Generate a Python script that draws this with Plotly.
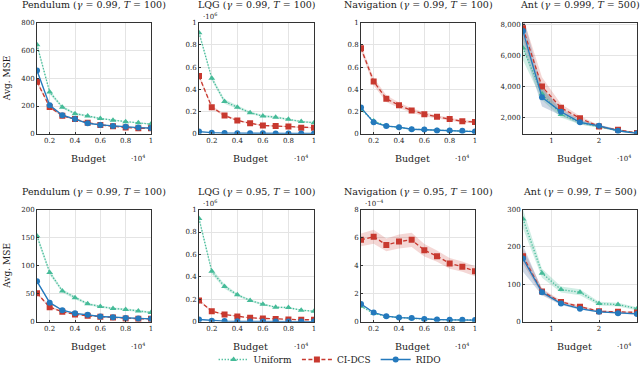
import plotly.graph_objects as go
from plotly.subplots import make_subplots

# budgets in units of 10^4
BUDGET = [0.1, 0.2, 0.3, 0.4, 0.5, 0.6, 0.7, 0.8, 0.9, 1.0]
BUDGET_ANT = [0.4, 0.8, 1.2, 1.6, 2.0, 2.4, 2.8]

TITLES = [
    "Pendulum (<i>γ</i> = 0.99, <i>T</i> = 100)",
    "LQG (<i>γ</i> = 0.99, <i>T</i> = 100)",
    "Navigation (<i>γ</i> = 0.99, <i>T</i> = 100)",
    "Ant (<i>γ</i> = 0.999, <i>T</i> = 500)",
    "Pendulum (<i>γ</i> = 0.99, <i>T</i> = 100)",
    "LQG (<i>γ</i> = 0.95, <i>T</i> = 100)",
    "Navigation (<i>γ</i> = 0.95, <i>T</i> = 100)",
    "Ant (<i>γ</i> = 0.99, <i>T</i> = 500)",
]

# row 1
PEND1_UNIFORM = [640, 300, 192, 145, 128, 110, 98, 86, 79, 70]
PEND1_UNIFORM_ERR = [18, 15, 10, 8, 7, 6, 6, 5, 5, 5]
PEND1_CIDCS = [375, 193, 130, 106, 80, 64, 54, 45, 40, 40]
PEND1_CIDCS_ERR = [15, 10, 8, 6, 5, 4, 4, 3, 3, 3]
PEND1_RIDO = [455, 205, 134, 106, 76, 64, 57, 50, 45, 42]
PEND1_RIDO_ERR = [10, 8, 6, 5, 4, 3, 3, 3, 3, 3]

LQG1_UNIFORM = [0.91, 0.50, 0.29, 0.24, 0.19, 0.16, 0.15, 0.13, 0.11, 0.10]
LQG1_UNIFORM_ERR = [0.02, 0.02, 0.02, 0.015, 0.01, 0.01, 0.01, 0.008, 0.008, 0.008]
LQG1_CIDCS = [0.52, 0.24, 0.165, 0.12, 0.095, 0.075, 0.07, 0.065, 0.055, 0.055]
LQG1_CIDCS_ERR = [0.02, 0.015, 0.01, 0.008, 0.006, 0.005, 0.005, 0.005, 0.004, 0.004]
LQG1_RIDO = [0.02, 0.01, 0.007, 0.005, 0.004, 0.004, 0.003, 0.003, 0.003, 0.003]
LQG1_RIDO_ERR = [0.003, 0.002, 0.001, 0.001, 0.001, 0.001, 0.001, 0.001, 0.001, 0.001]

NAV1_UNIFORM = [0.22, 0.115, 0.072, 0.058, 0.042, 0.038, 0.031, 0.029, 0.026, 0.021]
NAV1_UNIFORM_ERR = [0.006, 0.004, 0.003, 0.003, 0.002, 0.002, 0.002, 0.002, 0.002, 0.002]
NAV1_CIDCS = [0.77, 0.47, 0.316, 0.257, 0.21, 0.177, 0.153, 0.133, 0.112, 0.106]
NAV1_CIDCS_ERR = [0.03, 0.035, 0.03, 0.025, 0.02, 0.018, 0.015, 0.014, 0.012, 0.012]
NAV1_RIDO = [0.236, 0.103, 0.07, 0.06, 0.041, 0.038, 0.03, 0.03, 0.027, 0.02]
NAV1_RIDO_ERR = [0.006, 0.004, 0.003, 0.003, 0.002, 0.002, 0.002, 0.002, 0.002, 0.002]

ANT1_UNIFORM = [6500, 3530, 2190, 1660, 1380, 1150, 980]
ANT1_UNIFORM_ERR = [800, 400, 200, 120, 80, 60, 40]
ANT1_CIDCS = [7780, 4000, 2620, 1940, 1400, 1190, 980]
ANT1_CIDCS_ERR = [700, 600, 250, 150, 80, 60, 40]
ANT1_RIDO = [7600, 3300, 2360, 1680, 1450, 1130, 960]
ANT1_RIDO_ERR = [1000, 600, 250, 150, 80, 60, 40]

# row 2
PEND2_UNIFORM = [153, 88, 55, 43, 32, 27, 23.5, 22, 19, 16.5]
PEND2_UNIFORM_ERR = [5, 4, 3, 3, 2, 2, 2, 2, 2, 2]
PEND2_CIDCS = [51, 26, 18, 13, 10.6, 9, 7.6, 6, 5.3, 5.3]
PEND2_CIDCS_ERR = [2, 2, 1, 1, 1, 1, 1, 1, 1, 1]
PEND2_RIDO = [72, 34, 20.6, 15, 12.4, 9.4, 8.2, 6.5, 6, 5.3]
PEND2_RIDO_ERR = [2, 2, 1, 1, 1, 1, 1, 1, 1, 1]

LQG2_UNIFORM = [0.92, 0.45, 0.315, 0.24, 0.19, 0.156, 0.13, 0.126, 0.103, 0.094]
LQG2_UNIFORM_ERR = [0.02, 0.025, 0.02, 0.012, 0.01, 0.008, 0.007, 0.007, 0.006, 0.006]
LQG2_CIDCS = [0.19, 0.094, 0.065, 0.047, 0.035, 0.03, 0.024, 0.02, 0.018, 0.018]
LQG2_CIDCS_ERR = [0.01, 0.006, 0.004, 0.003, 0.002, 0.002, 0.002, 0.002, 0.002, 0.002]
LQG2_RIDO = [0.02, 0.01, 0.006, 0.004, 0.003, 0.003, 0.002, 0.002, 0.002, 0.002]
LQG2_RIDO_ERR = [0.002, 0.001, 0.001, 0.001, 0.001, 0.001, 0.001, 0.001, 0.001, 0.001]

NAV2_UNIFORM = [1.1, 0.6, 0.38, 0.3, 0.25, 0.19, 0.16, 0.14, 0.13, 0.12]
NAV2_UNIFORM_ERR = [0.05, 0.03, 0.02, 0.02, 0.02, 0.02, 0.02, 0.02, 0.02, 0.02]
NAV2_CIDCS = [5.84, 6.07, 5.48, 5.72, 5.84, 5.1, 4.68, 4.16, 3.93, 3.6]
NAV2_CIDCS_ERR = [0.45, 0.5, 0.45, 0.5, 0.5, 0.45, 0.4, 0.38, 0.36, 0.35]
NAV2_RIDO = [1.27, 0.66, 0.4, 0.3, 0.26, 0.19, 0.16, 0.14, 0.14, 0.12]
NAV2_RIDO_ERR = [0.06, 0.03, 0.02, 0.02, 0.02, 0.02, 0.02, 0.02, 0.02, 0.02]

ANT2_UNIFORM = [275, 130, 86, 79, 48.5, 46, 35]
ANT2_UNIFORM_ERR = [25, 12, 8, 8, 5, 5, 4]
ANT2_CIDCS = [175, 81, 53, 40, 28, 26.5, 25]
ANT2_CIDCS_ERR = [20, 8, 4, 3, 2, 2, 2]
ANT2_RIDO = [169, 79, 48.5, 35, 26.5, 23, 21]
ANT2_RIDO_ERR = [35, 8, 4, 3, 2, 2, 2]

PANELS = [
    (BUDGET, PEND1_UNIFORM, PEND1_UNIFORM_ERR, PEND1_CIDCS, PEND1_CIDCS_ERR, PEND1_RIDO, PEND1_RIDO_ERR),
    (BUDGET, LQG1_UNIFORM, LQG1_UNIFORM_ERR, LQG1_CIDCS, LQG1_CIDCS_ERR, LQG1_RIDO, LQG1_RIDO_ERR),
    (BUDGET, NAV1_UNIFORM, NAV1_UNIFORM_ERR, NAV1_CIDCS, NAV1_CIDCS_ERR, NAV1_RIDO, NAV1_RIDO_ERR),
    (BUDGET_ANT, ANT1_UNIFORM, ANT1_UNIFORM_ERR, ANT1_CIDCS, ANT1_CIDCS_ERR, ANT1_RIDO, ANT1_RIDO_ERR),
    (BUDGET, PEND2_UNIFORM, PEND2_UNIFORM_ERR, PEND2_CIDCS, PEND2_CIDCS_ERR, PEND2_RIDO, PEND2_RIDO_ERR),
    (BUDGET, LQG2_UNIFORM, LQG2_UNIFORM_ERR, LQG2_CIDCS, LQG2_CIDCS_ERR, LQG2_RIDO, LQG2_RIDO_ERR),
    (BUDGET, NAV2_UNIFORM, NAV2_UNIFORM_ERR, NAV2_CIDCS, NAV2_CIDCS_ERR, NAV2_RIDO, NAV2_RIDO_ERR),
    (BUDGET_ANT, ANT2_UNIFORM, ANT2_UNIFORM_ERR, ANT2_CIDCS, ANT2_CIDCS_ERR, ANT2_RIDO, ANT2_RIDO_ERR),
]

Y_RANGES = [[0, 800], [0, 1], [0, 1], [930, 8150], [0, 200], [0, 1], [0, 8], [0, 300]]
Y_TICKS = [
    [0, 200, 400, 600, 800],
    [0, 0.2, 0.4, 0.6, 0.8, 1],
    [0, 0.2, 0.4, 0.6, 0.8, 1],
    [2000, 4000, 6000, 8000],
    [0, 50, 100, 150, 200],
    [0, 0.2, 0.4, 0.6, 0.8, 1],
    [0, 2, 4, 6, 8],
    [0, 100, 200, 300],
]
Y_EXPONENT = [None, "·10<sup>6</sup>", None, None, None, "·10<sup>6</sup>", "·10<sup>−4</sup>", None]
X_TICKS = [0.2, 0.4, 0.6, 0.8, 1]
X_TICKS_ANT = [1, 2]

NAMES = ["Uniform", "CI-DCS", "RIDO"]
COLORS = ["#45bb98", "#c8392f", "#2479bd"]
BANDS = ["rgba(69,187,152,0.25)", "rgba(200,57,47,0.2)", "rgba(60,100,150,0.25)"]
DASHES = ["1.3px,1.7px", "4px,2.5px", "solid"]
SYMBOLS = ["triangle-up", "square", "circle"]

FONT = "DejaVu Serif, Liberation Serif, serif"
INK = "#222222"

# plot areas in pixels (640 x 374 figure)
COL_PX = [(37, 151), (199, 314), (361, 475), (523, 637)]
ROW_PX = [(23, 136), (213, 327)]
W, H = 640, 374

fig = make_subplots(rows=2, cols=4)

for i, panel in enumerate(PANELS):
    row, col = i // 4 + 1, i % 4 + 1
    x = panel[0]
    series = [(panel[1], panel[2]), (panel[3], panel[4]), (panel[5], panel[6])]
    for k, (m, e) in enumerate(series):
        upper = [a + b for a, b in zip(m, e)]
        lower = [a - b for a, b in zip(m, e)]
        fig.add_trace(
            go.Scatter(
                x=list(x) + list(x)[::-1],
                y=upper + lower[::-1],
                fill="toself",
                fillcolor=BANDS[k],
                line=dict(width=0),
                mode="lines",
                hoverinfo="skip",
                showlegend=False,
            ),
            row=row,
            col=col,
        )
    for k, (m, e) in enumerate(series):
        fig.add_trace(
            go.Scatter(
                x=x,
                y=m,
                mode="lines+markers",
                name=NAMES[k],
                legendgroup=NAMES[k],
                showlegend=(i == 0),
                line=dict(color=COLORS[k], width=1.3, dash=DASHES[k]),
                marker=dict(symbol=SYMBOLS[k], size=6, color=COLORS[k]),
            ),
            row=row,
            col=col,
        )

for i in range(8):
    r, c = i // 4, i % 4
    n = "" if i == 0 else str(i + 1)
    x0, x1 = COL_PX[c]
    y0, y1 = ROW_PX[r]
    ant = c == 3
    fig.layout["xaxis" + n].update(
        domain=[x0 / W, x1 / W],
        range=[0.4, 2.8] if ant else [0.1, 1.0],
        tickvals=X_TICKS_ANT if ant else X_TICKS,
    )
    fig.layout["yaxis" + n].update(
        domain=[1 - y1 / H, 1 - y0 / H],
        range=Y_RANGES[i],
        tickvals=Y_TICKS[i],
        tickformat="," if ant and r == 0 else None,
    )
    xd = "x" + n + " domain"
    yd = "y" + n + " domain"
    fig.add_annotation(
        text=TITLES[i], xref=xd, yref=yd, x=0.5, y=1.165,
        xanchor="center", yanchor="middle", showarrow=False,
        font=dict(size=9.5, color=INK, family=FONT),
    )
    fig.add_annotation(
        text="Budget", xref=xd, yref=yd, x=0.45, y=-0.22,
        xanchor="center", yanchor="middle", showarrow=False,
        font=dict(size=9.5, color=INK, family=FONT),
    )
    fig.add_annotation(
        text="·10<sup>4</sup>", xref=xd, yref=yd, x=0.965, y=-0.22,
        xanchor="right", yanchor="middle", showarrow=False,
        font=dict(size=7, color=INK, family=FONT),
    )
    if Y_EXPONENT[i]:
        fig.add_annotation(
            text=Y_EXPONENT[i], xref=xd, yref=yd, x=0.02, y=1.0,
            xanchor="left", yanchor="bottom", showarrow=False,
            font=dict(size=7, color=INK, family=FONT),
        )
    if c == 0:
        fig.add_annotation(
            text="Avg. MSE", xref="paper", yref=yd, x=7 / W, y=0.5,
            xanchor="center", yanchor="middle", textangle=-90, showarrow=False,
            font=dict(size=9, color=INK, family=FONT),
        )

axis_style = dict(
    automargin=False,
    showgrid=True, gridcolor="#e4e4e4", gridwidth=1, zeroline=False,
    showline=True, linecolor="#333333", linewidth=1, mirror=True,
    ticks="inside", ticklen=2, tickcolor="#333333",
    tickfont=dict(size=7, color=INK, family=FONT),
)
fig.update_xaxes(**axis_style)
fig.update_yaxes(**axis_style)

fig.update_layout(
    width=W,
    height=H,
    margin=dict(l=0, r=0, t=0, b=0),
    paper_bgcolor="white",
    plot_bgcolor="white",
    font=dict(family=FONT, color=INK),
    legend=dict(
        orientation="h",
        x=0.515,
        xanchor="center",
        y=0.022,
        yanchor="middle",
        font=dict(size=9, family=FONT, color=INK),
        itemwidth=30,
        tracegroupgap=0,
        bgcolor="rgba(0,0,0,0)",
    ),
)

# the page body has a default 8px margin; drop it so the figure sits at (0, 0)
fig.write_html(
    "out.html",
    config={"displayModeBar": False},
    post_script="document.body.style.margin = '0';",
)
